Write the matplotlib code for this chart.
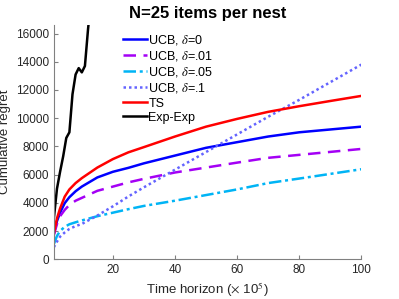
import matplotlib
matplotlib.use('Agg')
import matplotlib.pyplot as plt

plt.rcParams['font.family'] = ['Liberation Sans', 'DejaVu Sans']
plt.rcParams['mathtext.fontset'] = 'stix'

# Time horizon (x 1e5)
x_exp = [1, 2, 3, 4, 5, 6, 7, 8, 9, 10, 11, 12, 13]
exp_exp = [2900, 5000, 6200, 7300, 8600, 9000, 11700, 13100, 13550, 13250, 13700, 16300, 18500]

x_t = [1, 2, 3, 4.5, 6, 8, 10, 15, 20, 25, 30, 40, 50, 60, 70, 80, 90, 100]
ucb_0 = [1800, 2700, 3300, 3980, 4400, 4820, 5150, 5800, 6200, 6480, 6800, 7350, 7900, 8300, 8700, 9000, 9200, 9400]
ucb_01 = [1720, 2500, 3050, 3500, 3850, 4150, 4350, 4850, 5150, 5450, 5700, 6150, 6500, 6850, 7190, 7400, 7610, 7820]
ucb_05 = [1080, 1650, 2000, 2300, 2480, 2620, 2750, 3050, 3300, 3550, 3780, 4150, 4550, 4950, 5400, 5720, 6050, 6380]
ucb_1 = [850, 1250, 1600, 1900, 2150, 2350, 2500, 3100, 3750, 4450, 5100, 6350, 7600, 8850, 10100, 11300, 12550, 13800]
ts = [1840, 2900, 3600, 4440, 4950, 5400, 5750, 6500, 7100, 7580, 7950, 8700, 9400, 9950, 10450, 10850, 11220, 11580]

fig = plt.figure(figsize=(3.99, 2.99), dpi=100)
ax = fig.add_axes([0.135, 0.133, 0.7705, 0.783])

lw = 1.8
ax.plot(x_t, ucb_0, color='#0000ff', lw=lw, label=r'UCB, $\delta$=0')
ax.plot(x_t, ucb_01, color='#a400f5', lw=lw, ls=(0, (5, 3)), label=r'UCB, $\delta$=.01')
ax.plot(x_t, ucb_05, color='#00b4f5', lw=lw, ls=(0, (5, 1.5, 1.2, 1.5)), label=r'UCB, $\delta$=.05')
ax.plot(x_t, ucb_1, color='#6464ff', lw=lw, ls=(0, (1, 1.2)), label=r'UCB, $\delta$=.1')
ax.plot(x_t, ts, color='#ff0000', lw=lw, label='TS')
ax.plot(x_exp, exp_exp, color='black', lw=lw, label='Exp-Exp')

ax.set_xlim(1, 100)
ax.set_ylim(0, 16600)
ax.set_xticks([20, 40, 60, 80, 100])
ax.set_yticks(range(0, 16001, 2000))

for s in ['top', 'right']:
    ax.spines[s].set_visible(False)
for s in ['left', 'bottom']:
    ax.spines[s].set_color('#808080')
    ax.spines[s].set_linewidth(0.8)
ax.tick_params(direction='in', length=3, width=0.8, color='#808080', labelsize=8.5, labelcolor='#262626')

ax.set_title('N=25 items per nest', fontsize=12, fontweight='bold', pad=5)
ax.set_xlabel(r'Time horizon ($\times$ 10$^5$)', fontsize=9.5, color='#262626', labelpad=3)
ax.set_ylabel('Cumulative regret', fontsize=9.5, color='#262626')
ax.yaxis.set_label_coords(-0.14, 0.5)

ax.legend(loc='upper left', bbox_to_anchor=(0.2, 1.0), frameon=False, fontsize=9,
          handlelength=1.9, handletextpad=0.15, labelspacing=0.18, borderaxespad=0.2)

fig.savefig('out.png', dpi=100)
